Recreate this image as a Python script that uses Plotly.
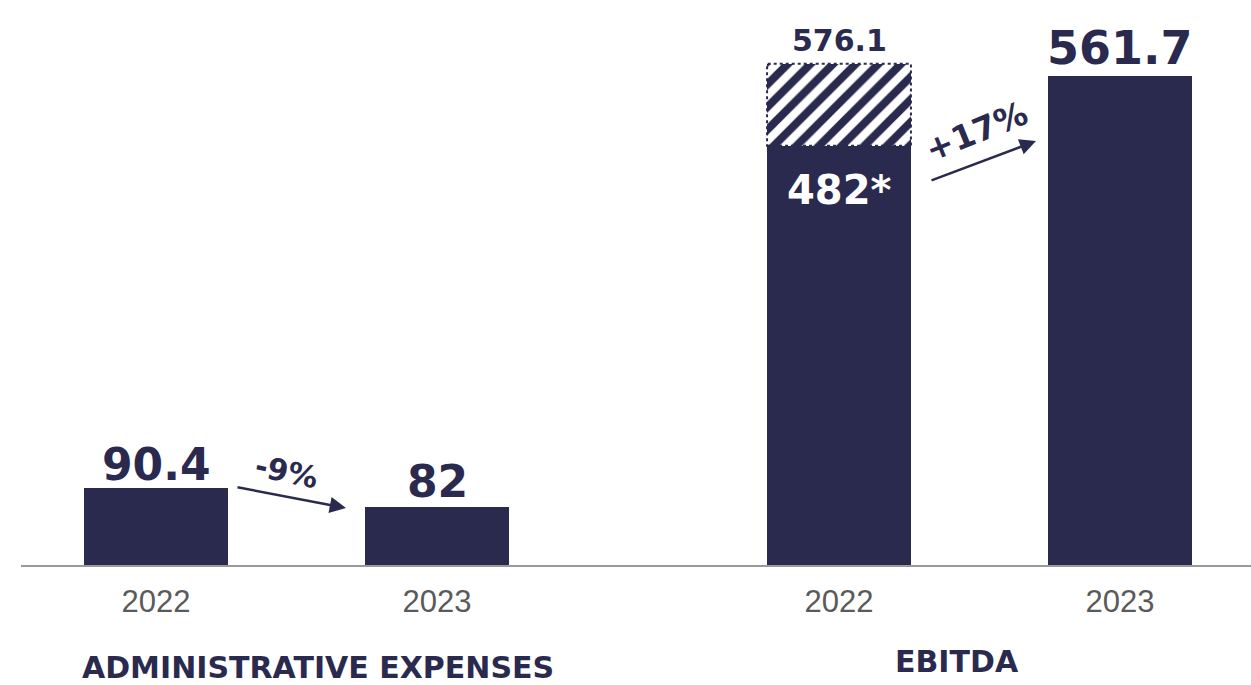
import plotly.graph_objects as go

# ---- data ----
years = ["2022", "2023"]
admin_expenses = [90.4, 82]
ebitda = [482, 561.7]
ebitda_2022_reported = 576.1
admin_change = "-9%"
ebitda_change = "+17%"
panel_titles = ["ADMINISTRATIVE EXPENSES", "EBITDA"]

NAVY = "#2a2a4f"
GRAY_TXT = "#5a5a5a"
LINE = "#9a9a9a"
BAR_W = 0.512
W, H = 1251, 685
PLOT_BOTTOM = 565  # px from top

def px(xp):
    return xp / W

def py(yp):
    return (PLOT_BOTTOM - yp) / PLOT_BOTTOM

idx = list(range(len(years)))

fig = go.Figure()

fig.add_trace(go.Bar(x=years, y=admin_expenses, width=BAR_W, marker=dict(color=NAVY, line=dict(width=0)),
                     xaxis="x", yaxis="y", showlegend=False, hoverinfo="skip"))
fig.add_trace(go.Bar(x=years, y=ebitda, width=BAR_W, marker=dict(color=NAVY, line=dict(width=0)),
                     xaxis="x2", yaxis="y2", showlegend=False, hoverinfo="skip"))
# hatched extra part for reported 2022 EBITDA
fig.add_trace(go.Bar(x=[years[0]], y=[ebitda_2022_reported - ebitda[0]], width=BAR_W,
                     marker=dict(color="white", line=dict(width=0),
                                 pattern=dict(shape="/", fgcolor=NAVY, bgcolor="white", fgopacity=1,
                                              size=16, solidity=0.5)),
                     xaxis="x2", yaxis="y2", showlegend=False, hoverinfo="skip"))

# dotted outline of hatched part
fig.add_shape(type="rect", xref="x2", yref="y2", x0=idx[0] - BAR_W / 2, x1=idx[0] + BAR_W / 2,
              y0=ebitda[0], y1=ebitda_2022_reported, line=dict(color=NAVY, width=2, dash="dot"))

num_font = dict(family="DejaVu Sans", weight="bold", color=NAVY)

# value labels
fig.add_annotation(x=idx[0], y=admin_expenses[0], xref="x", yref="y", text=f"{admin_expenses[0]}",
                   showarrow=False, xanchor="center", yanchor="bottom", yshift=-4,
                   font=dict(size=44, **num_font))
fig.add_annotation(x=idx[1], y=admin_expenses[1], xref="x", yref="y", text=f"{admin_expenses[1]:g}",
                   showarrow=False, xanchor="center", yanchor="bottom", yshift=-2,
                   font=dict(size=44, **num_font))
fig.add_annotation(x=idx[1], y=ebitda[1], xref="x2", yref="y2", text=f"{ebitda[1]}",
                   showarrow=False, xanchor="center", yanchor="bottom", yshift=-1,
                   font=dict(size=46, **num_font))
fig.add_annotation(x=idx[0], y=ebitda_2022_reported, xref="x2", yref="y2", text=f"{ebitda_2022_reported}",
                   showarrow=False, xanchor="center", yanchor="bottom", yshift=4,
                   font=dict(size=30, **num_font))
fig.add_annotation(x=idx[0], y=ebitda[0], xref="x2", yref="y2", text=f"{ebitda[0]:g}*",
                   showarrow=False, xanchor="center", yanchor="top", yshift=-19,
                   font=dict(size=40, family="DejaVu Sans", weight="bold", color="white"))

# change arrows
fig.add_annotation(x=px(346), y=py(508), xref="paper", yref="paper", ax=-110, ay=-21,
                   text="", showarrow=True, arrowhead=2, arrowsize=1.3, arrowwidth=2.5, arrowcolor=NAVY)
fig.add_annotation(x=px(286), y=py(471), xref="paper", yref="paper", text=admin_change,
                   showarrow=False, xanchor="center", yanchor="middle", textangle=12,
                   font=dict(size=30, **num_font))
fig.add_annotation(x=px(1036), y=py(141), xref="paper", yref="paper", ax=-106, ay=40,
                   text="", showarrow=True, arrowhead=2, arrowsize=1.3, arrowwidth=2.5, arrowcolor=NAVY)
fig.add_annotation(x=px(976), y=py(131), xref="paper", yref="paper", text=ebitda_change,
                   showarrow=False, xanchor="center", yanchor="middle", textangle=-22,
                   font=dict(size=33, **num_font))

# panel titles
fig.add_annotation(x=px(318), y=py(667), xref="paper", yref="paper", text=panel_titles[0],
                   showarrow=False, xanchor="center", yanchor="middle", font=dict(size=30, **num_font))
fig.add_annotation(x=px(957), y=py(661), xref="paper", yref="paper", text=panel_titles[1],
                   showarrow=False, xanchor="center", yanchor="middle", font=dict(size=30, **num_font))

unit = 281.0  # px per category step
tickfont = dict(family="Liberation Sans", size=31, color=GRAY_TXT)
xcommon = dict(type="category", showline=True, linecolor=LINE, linewidth=2, ticks="",
               showgrid=False, zeroline=False, tickfont=tickfont, ticklabelstandoff=8,
               fixedrange=True)
left_dom = (21, 625.5)
right_dom = (625.5, 1251)
x_left0 = -(156 - left_dom[0]) / unit
x_right0 = -(839 - right_dom[0]) / unit

# y scales
admin_base = 56.36
admin_top = admin_base + PLOT_BOTTOM / 2.262
ebitda_top = PLOT_BOTTOM / 0.87

fig.update_layout(
    width=W, height=H,
    margin=dict(l=0, r=0, t=0, b=H - PLOT_BOTTOM),
    paper_bgcolor="white", plot_bgcolor="white",
    barmode="stack",
    xaxis=dict(domain=[left_dom[0] / W, left_dom[1] / W],
               range=[x_left0, x_left0 + (left_dom[1] - left_dom[0]) / unit], **xcommon),
    xaxis2=dict(domain=[right_dom[0] / W, right_dom[1] / W], anchor="y2",
                range=[x_right0, x_right0 + (right_dom[1] - right_dom[0]) / unit], **xcommon),
    yaxis=dict(range=[admin_base, admin_top], visible=False, fixedrange=True),
    yaxis2=dict(range=[0, ebitda_top], visible=False, anchor="x2", fixedrange=True),
)

fig.write_html("out.html", config={"displayModeBar": False},
               post_script="document.body.style.margin='0';")
